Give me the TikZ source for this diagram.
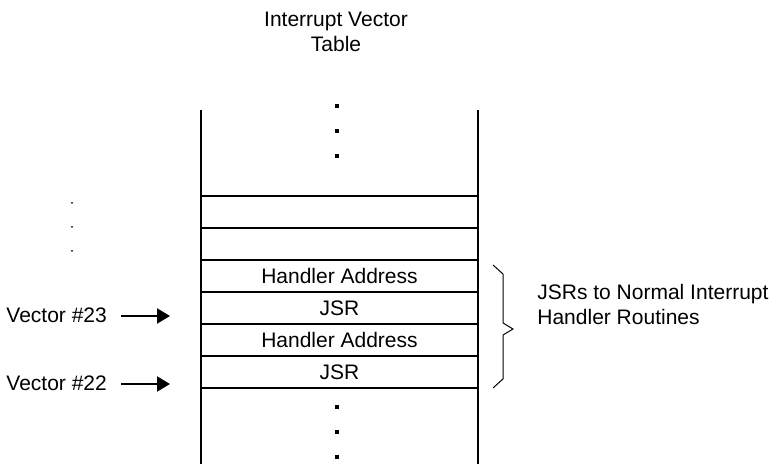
\documentclass[tikz,border=0pt]{standalone}
\usepackage{fontspec}
\setmainfont{Liberation Sans}
\usetikzlibrary{arrows.meta,positioning}
\tikzset{
  slot/.style={rectangle, draw=black, line width=1.4pt, outer sep=0pt, inner sep=0pt, minimum width=138.5pt, minimum height=16pt, font=\fontsize{10.5}{12.5}\selectfont},
  wall/.style={line width=1.4pt},
  bigdot/.style={rectangle, fill=black, inner sep=0pt, minimum size=2pt},
  smalldot/.style={circle, fill=black, inner sep=0pt, minimum size=1pt},
  plain/.style={align=center, inner sep=0pt, font=\fontsize{10.5}{12.5}\selectfont},
  vecarrow/.style={-{Triangle[length=6.5pt, width=7.5pt]}, line width=1pt},
  jsrbrace/.style={line width=0.5pt, line join=miter}
}
\begin{document}
\begin{tikzpicture}[x=0.5pt, y=-0.5pt]
\useasboundingbox (0,0) rectangle (773,464);
% title
\node[plain] (title) at (336,32) {Interrupt Vector\\Table};
% rows of the table
\node[slot] (blankA) at (339.5,212) {};
\node[slot, below=0pt of blankA] (blankB) {};
\node[slot, below=0pt of blankB] (handA) {Handler Address};
\node[slot, below=0pt of handA] (jsrA) {JSR};
\node[slot, below=0pt of jsrA] (handB) {Handler Address};
\node[slot, below=0pt of handB] (jsrB) {JSR};
% side walls
\coordinate (topL) at (201,110);
\coordinate (topR) at (478,110);
\coordinate (botL) at (201,464);
\coordinate (botR) at (478,464);
\draw[wall] (topL) -- (botL);
\draw[wall] (topR) -- (botR);
% continuation dots
\foreach \y in {106,131,156,407,432,457}
  \node[bigdot] at (337,\y) {};
\foreach \y in {203,227,251}
  \node[smalldot] at (72,\y) {};
% vector entries
\node[plain, anchor=west] (vec23) at (6,315) {Vector \#23};
\node[plain, anchor=west] (vec22) at (6,383) {Vector \#22};
\coordinate (tip23) at (170,316);
\coordinate (tip22) at (170,384);
\draw[vecarrow] ([xshift=7pt]vec23.east |- tip23) -- (tip23);
\draw[vecarrow] ([xshift=7pt]vec22.east |- tip22) -- (tip22);
% brace over the JSR entries
\coordinate (braceTop) at (493,265);
\coordinate (braceTip) at (513,329);
\coordinate (braceBot) at (493,388);
\draw[jsrbrace] (braceTop) -- ++(10,9) -- ++(0,49) -- (braceTip)
  -- ++(-10,6) -- ++(0,44) -- (braceBot);
\node[plain, align=left, anchor=west] (jsrNote) at (537,304) {JSRs to Normal Interrupt\\Handler Routines};
\end{tikzpicture}
\end{document}
